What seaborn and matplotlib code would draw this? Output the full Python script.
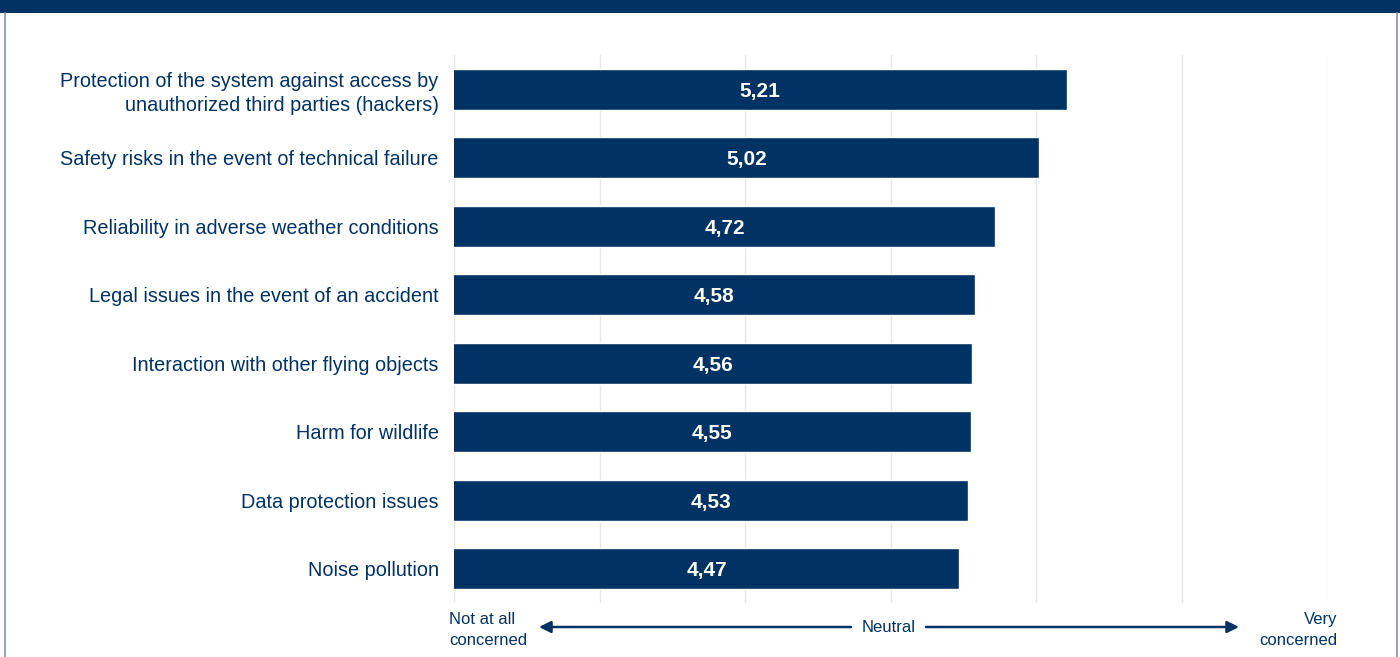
import matplotlib
matplotlib.use("Agg")
import matplotlib.pyplot as plt
from matplotlib.patches import Rectangle, FancyArrowPatch
from matplotlib.lines import Line2D
import seaborn as sns
import pandas as pd

categories = [
    "Protection of the system against access by\nunauthorized third parties (hackers)",
    "Safety risks in the event of technical failure",
    "Reliability in adverse weather conditions",
    "Legal issues in the event of an accident",
    "Interaction with other flying objects",
    "Harm for wildlife",
    "Data protection issues",
    "Noise pollution",
]
values = [5.21, 5.02, 4.72, 4.58, 4.56, 4.55, 4.53, 4.47]
scale_ticks = [1, 2, 3, 4, 5, 6, 7]
scale_labels = ["Not at all\nconcerned", "Neutral", "Very\nconcerned"]

NAVY = "#003263"

sns.set_theme(style="white")
plt.rcParams["font.family"] = ["Liberation Sans", "DejaVu Sans"]

W, H = 1400, 657
fig = plt.figure(figsize=(14, 6.57), dpi=100)
ax = fig.add_axes([454 / W, 1 - 603 / H, (1327 - 454) / W, (603 - 55) / H])

df = pd.DataFrame({"item": categories, "value": values})
sns.barplot(data=df, x="value", y="item", orient="h", color=NAVY,
            saturation=1, width=0.6, ax=ax, zorder=3)

ax.set_xlim(scale_ticks[0], scale_ticks[-1])
ax.set_ylim(len(categories) - 0.5, -0.5)
ax.set_xticks(scale_ticks)
ax.set_xticklabels([])
ax.tick_params(axis="x", length=0)
ax.tick_params(axis="y", length=0, pad=11, labelsize=14.3, labelcolor=NAVY)
for lbl in ax.get_yticklabels():
    lbl.set_linespacing(1.3)
ax.grid(axis="x", color="#e8e8e8", linewidth=1, zorder=0)
ax.grid(axis="y", visible=False)
for s in ax.spines.values():
    s.set_visible(False)
ax.set_xlabel("")
ax.set_ylabel("")

for i, v in enumerate(values):
    mid = (scale_ticks[0] + v) / 2
    ax.text(mid, i, f"{v:.2f}".replace(".", ","), ha="center", va="center_baseline",
            color="white", fontsize=15, fontweight="bold", zorder=4)

# banner and frame
fig.patches.append(Rectangle((0, 1 - 13 / H), 1, 13 / H, transform=fig.transFigure,
                             facecolor=NAVY, edgecolor="none", zorder=0))
for xp in (5, 1397):
    fig.lines.append(Line2D([xp / W, xp / W], [0, 1 - 13 / H], transform=fig.transFigure,
                            color="#7f93ab", linewidth=1.2))

# bottom scale annotation
fy = 1 - 630 / H
fig.text(449 / W, fy, scale_labels[0], ha="left", va="center", color=NAVY,
         fontsize=12, linespacing=1.45)
fig.text(889 / W, 1 - 627 / H, scale_labels[1], ha="center", va="center", color=NAVY,
         fontsize=12)
fig.text(1337 / W, fy, scale_labels[2], ha="right", va="center", color=NAVY,
         fontsize=12, multialignment="right", linespacing=1.45)
ay = 1 - 627 / H
fig.patches.append(FancyArrowPatch(
    (851 / W, ay), (539 / W, ay), transform=fig.transFigure,
    arrowstyle="-|>,head_length=7,head_width=3.5", color=NAVY, linewidth=1.8,
    shrinkA=0, shrinkB=0))
fig.patches.append(FancyArrowPatch(
    (926 / W, ay), (1239 / W, ay), transform=fig.transFigure,
    arrowstyle="-|>,head_length=7,head_width=3.5", color=NAVY, linewidth=1.8,
    shrinkA=0, shrinkB=0))

fig.savefig("out.png", dpi=100, facecolor="white")
